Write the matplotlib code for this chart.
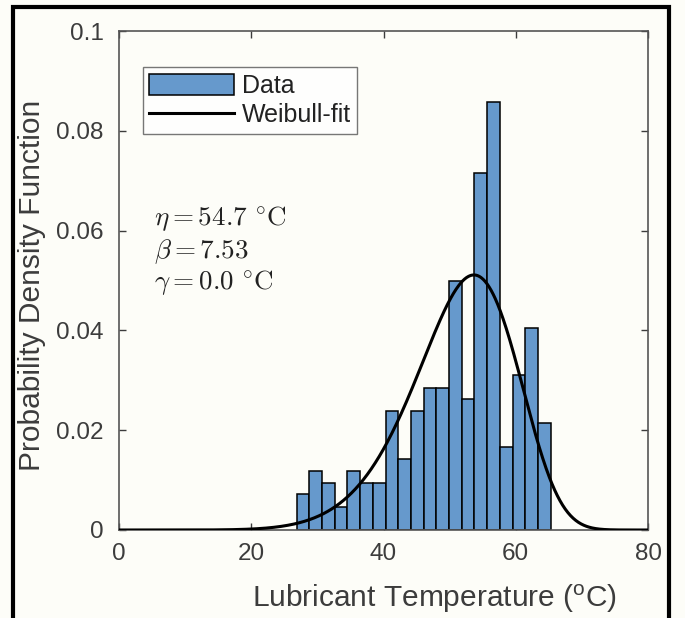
import numpy as np
import matplotlib
matplotlib.use('Agg')
import matplotlib.pyplot as plt
from matplotlib.patches import Rectangle

plt.rcParams['font.family'] = ['Liberation Sans', 'DejaVu Sans']
plt.rcParams['mathtext.fontset'] = 'cm'

# histogram of lubricant temperature, normalised as a pdf
bin_start = 26.87
bin_width = 1.92
density = [0.0072, 0.0118, 0.0094, 0.0047, 0.0118, 0.0094, 0.0094, 0.0238,
           0.0143, 0.0238, 0.0284, 0.0284, 0.0500, 0.0263, 0.0715, 0.0857,
           0.0167, 0.0310, 0.0405, 0.0214]

# fitted Weibull parameters
eta = 54.7
beta = 7.53
gamma = 0.0

xticks = [0, 20, 40, 60, 80]
yticks = [0, 0.02, 0.04, 0.06, 0.08, 0.1]
yticklabels = ['0', '0.02', '0.04', '0.06', '0.08', '0.1']

bg = '#fdfdf8'
grey = '#3c3c3c'

fig = plt.figure(figsize=(6.85, 6.18), dpi=100, facecolor=bg)
ax = fig.add_axes([119/685, 88/618, 529/685, 499/618], facecolor=bg)

edges = bin_start + bin_width * np.arange(len(density))
bars = ax.bar(edges, density, width=bin_width, align='edge', color='#6699cc',
              edgecolor='black', linewidth=1.1, zorder=2)

t = np.linspace(0, 80, 800)
z = np.clip(t - gamma, 0, None) / eta
pdf = (beta / eta) * z**(beta - 1) * np.exp(-z**beta)
line, = ax.plot(t, pdf, color='black', linewidth=2.2, zorder=3)

ax.set_xlim(0, 80)
ax.set_ylim(0, 0.1)
ax.set_xticks(xticks)
ax.set_yticks(yticks)
ax.set_yticklabels(yticklabels)
ax.tick_params(direction='in', length=5, width=1, colors=grey,
               labelsize=17.5, top=True, right=True)
ax.tick_params(axis='y', pad=11)
ax.tick_params(axis='x', pad=9)
for s in ax.spines.values():
    s.set_color('#555555')
    s.set_linewidth(1.2)

ax.set_xlabel('Lubricant Temperature ($\\mathregular{^{o}}$C)', fontsize=21.5,
              color=grey)
ax.xaxis.set_label_coords(0.597, -0.105)
ax.set_ylabel('Probability Density Function', fontsize=21.5, color=grey)
ax.yaxis.set_label_coords(-0.138, 0.49)

leg = ax.legend([bars, line], ['Data', 'Weibull-fit'], loc='upper left',
                bbox_to_anchor=(0.045, 0.927), fontsize=18,
                frameon=True, fancybox=False, edgecolor='#555555',
                handlelength=3.4, handleheight=0.95, handletextpad=0.3,
                borderpad=0.25, labelspacing=0.2, borderaxespad=0)
leg.get_frame().set_linewidth(1.0)
leg.get_frame().set_facecolor('white')
for txt in leg.get_texts():
    txt.set_color('#222222')

params = ['$\\eta = 54.7\\ ^{\\circ}\\mathrm{C}$',
          '$\\beta = 7.53$',
          '$\\gamma = 0.0\\ ^{\\circ}\\mathrm{C}$']
for i, s in enumerate(params):
    ax.text(0.066, 0.622 - i * 0.064, s, transform=ax.transAxes,
            fontsize=19.5, color='#222222', va='center', ha='left')

# black border around the whole figure
fig.patches.append(Rectangle((13/685, -0.05), 656/685, 1.05 - 7/618,
                             transform=fig.transFigure, fill=False,
                             edgecolor='black', linewidth=3))

fig.savefig('out.png', dpi=100, facecolor=bg)
